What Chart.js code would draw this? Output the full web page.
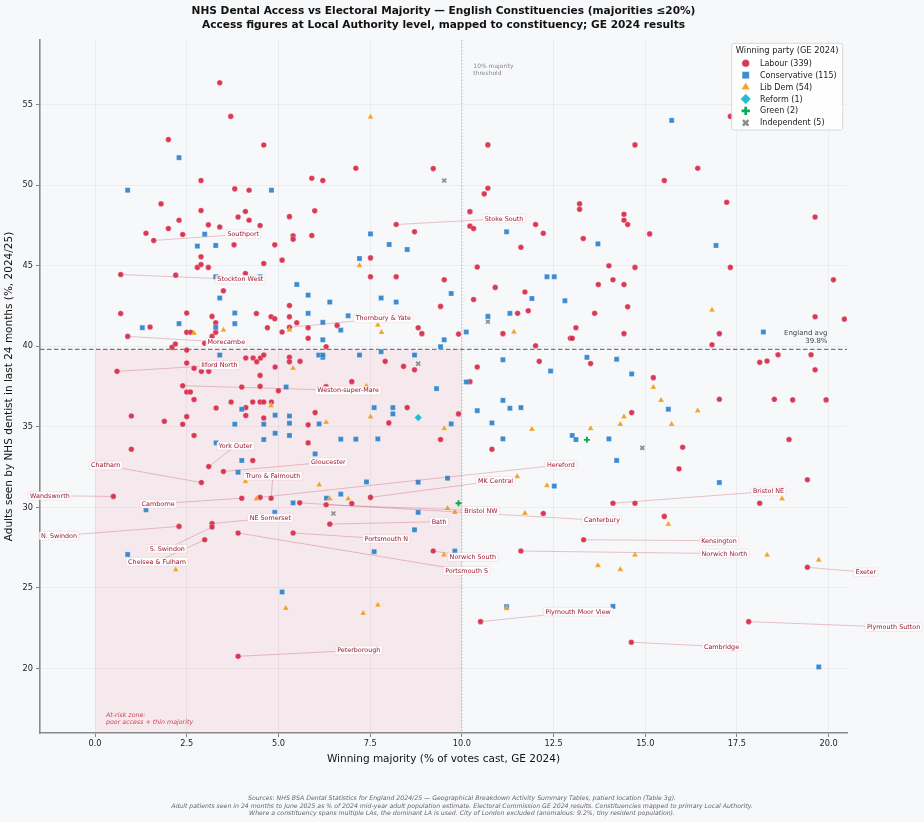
<!DOCTYPE html>
<html><head><meta charset="utf-8">
<script src="https://cdn.jsdelivr.net/npm/chart.js@4.4.1/dist/chart.umd.min.js"></script>
<style>html,body{margin:0;padding:0;background:#f7f8fa;}canvas{display:block}</style>
</head><body>
<canvas id="c" width="924" height="822"></canvas>
<script>
// ---------------- DATA ----------------
const X_TICKS = [0, 2.5, 5, 7.5, 10, 12.5, 15, 17.5, 20];
const Y_TICKS = [20, 25, 30, 35, 40, 45, 50, 55];
const X_RANGE = [-1.5, 20.5];
const Y_RANGE = [16, 59];
const ENGLAND_AVG = 39.8;
const THRESHOLD = 10;

// [majority %, adults seen %]
const labour = [
[3.40,56.35],[3.70,54.26],[2.00,52.82],[4.60,52.48],[2.89,50.28],[3.81,49.76],[4.20,49.68],[1.80,48.83],[2.89,48.42],[4.10,48.36],[3.90,48.02],[5.30,48.04],[2.29,47.82],[4.20,47.82],[2.00,47.30],[3.09,47.53],[3.40,47.40],[4.50,47.49],[1.39,47.01],[2.39,46.93],[5.40,46.85],[5.40,46.64],[1.60,46.56],[3.79,46.29],[4.90,46.29],[2.89,45.55],[2.79,44.89],[2.89,45.07],[3.09,44.89],[5.10,45.34],[4.60,45.13],[0.70,44.45],[2.20,44.41],[4.10,44.51],[3.50,43.44],[5.30,42.53],[0.70,42.03],[2.50,42.06],[4.40,42.03],[3.19,41.85],[3.29,41.46],[4.80,41.83],[4.90,41.70],[5.30,41.83],[5.50,41.46],[1.50,41.19],[4.70,41.15],[5.30,41.17],[2.50,40.86],[2.61,40.86],[3.29,40.86],[5.10,40.88],[0.89,40.61],[3.19,40.61],
[2.10,39.93],[2.19,40.14],[2.50,39.76],[2.99,40.18],[2.50,38.96],[0.60,38.44],[2.70,38.63],[2.90,38.44],[3.10,38.44],[4.11,39.27],[4.31,39.27],[4.41,39.04],[4.51,39.27],[4.60,39.45],[5.30,39.31],[5.30,39.04],[5.59,39.06],[4.91,38.71],[4.50,38.19],[2.39,37.55],[4.00,37.47],[4.50,37.51],[5.00,37.24],[2.50,37.16],[2.60,37.16],[2.70,36.69],[3.30,36.17],[3.71,36.54],[4.11,36.19],[4.30,36.54],[4.50,36.54],[4.60,36.54],[4.81,36.54],[4.11,35.70],[4.60,35.55],[0.99,35.67],[1.89,35.34],[2.50,35.63],[2.39,35.16],[2.70,34.46],[0.99,33.61],[3.10,32.53],[4.30,32.91],[3.50,32.23],[2.90,31.54],
[0.50,30.68],[4.00,30.57],[4.50,30.62],[4.80,30.57],[5.58,30.28],[2.29,28.82],[3.19,29.00],[3.19,28.78],[3.90,28.41],[5.40,28.41],[2.99,27.99],[3.90,20.76],
[10.71,52.49],[7.11,51.04],[9.22,51.02],[5.91,50.42],[6.21,50.28],[10.71,49.80],[10.61,49.45],[5.99,48.40],[10.22,48.35],[8.21,47.55],[8.71,47.10],[10.22,47.45],[10.32,47.30],[12.01,47.55],[12.22,47.01],[5.91,46.87],[11.61,46.14],[7.51,45.48],[10.42,44.91],
[7.51,44.31],[8.21,44.31],[9.52,44.12],[10.91,43.65],[11.72,43.36],[10.32,42.90],[9.42,42.47],[11.81,42.20],[6.60,41.29],[5.81,41.15],[5.81,40.49],[8.81,41.15],[8.91,40.78],[9.91,40.75],[11.52,42.04],[11.12,40.78],[6.30,39.97],[12.01,40.03],[12.96,40.49],[7.91,39.06],[8.41,38.75],[8.71,38.54],[10.42,38.71],[12.11,39.06],[7.00,37.80],[6.30,37.49],[10.22,37.80],[8.51,36.19],[6.00,35.88],[5.81,35.12],[8.01,35.24],[9.91,35.80],[9.42,34.21],[5.81,34.00],[10.82,33.61],
[7.51,30.62],[6.30,30.16],[7.00,30.24],[12.22,29.62],[6.40,28.96],[9.22,27.29],[11.61,27.29],[10.51,22.91],
[17.32,54.26],[14.72,52.49],[16.43,51.04],[15.52,50.28],[17.22,48.93],[13.21,48.83],[13.21,48.50],[19.63,48.02],[14.42,48.19],[14.42,47.82],[14.52,47.55],[15.12,46.97],[13.31,46.68],[14.01,44.99],[14.72,44.89],[17.32,44.89],
[13.72,43.83],[14.12,44.12],[14.42,43.83],[20.13,44.12],[13.62,42.04],[14.52,42.45],[19.63,41.83],[20.43,41.68],[13.11,41.15],[13.01,40.49],[14.42,40.78],[17.02,40.78],[16.82,40.09],[13.51,38.92],[18.12,39.00],[18.32,39.08],[18.62,39.47],[19.52,39.47],[19.63,38.54],[15.22,38.05],[17.02,36.71],[18.52,36.71],[19.02,36.67],[19.93,36.67],[14.63,35.88],[16.02,33.73],[18.92,34.21],[15.92,32.39],[19.42,31.71],
[14.12,30.26],[14.72,30.26],[18.12,30.26],[15.52,29.44],[13.32,27.99],[19.42,26.28],[17.82,22.91],[14.62,21.63]
];
const conservative = [
[2.29,51.70],[0.89,49.68],[4.81,49.68],[2.99,46.95],[2.79,46.21],[3.29,46.25],[3.29,44.31],[4.50,44.31],[3.40,42.99],[5.50,43.83],[3.81,42.06],[2.29,41.40],[3.81,41.40],[1.29,41.15],[3.29,41.17],
[3.40,39.45],[5.21,37.47],[4.00,36.09],[4.91,35.72],[5.30,35.67],[3.81,35.16],[4.60,35.16],[5.30,35.22],[4.91,34.60],[5.30,34.46],[4.60,34.21],[3.30,34.00],[4.00,32.91],[3.90,32.18],
[5.40,30.28],[1.39,29.85],[4.90,29.69],[0.89,27.08],[5.10,24.75],
[11.22,47.10],[7.51,46.97],[8.02,46.31],[8.51,46.00],[7.21,45.44],
[12.32,44.31],[12.52,44.31],[5.81,43.17],[9.71,43.27],[11.91,42.96],[12.81,42.82],[6.40,42.74],[7.80,42.99],[8.21,42.74],[5.81,42.04],[6.90,41.89],[6.21,41.48],[6.70,41.00],[10.12,40.88],[10.71,41.85],[11.31,42.04],[6.21,40.40],[9.52,40.40],[9.42,39.97],[6.10,39.45],[6.21,39.31],[6.21,39.45],[7.21,39.45],[7.80,39.66],[8.71,39.45],[11.12,39.16],[12.42,38.46],[10.12,37.78],[9.31,37.37],[11.12,36.64],[11.31,36.15],[11.61,36.19],[10.42,36.00],[7.61,36.19],[8.12,36.19],[8.12,35.80],[6.11,35.18],[9.71,35.18],[10.82,35.24],[6.70,34.23],[7.11,34.23],[7.71,34.25],[11.12,34.25],[6.00,33.32],[7.40,31.58],[8.81,31.56],[9.61,31.81],[12.52,31.32],
[6.31,30.57],[6.70,30.82],[8.81,29.69],[8.71,28.61],[7.61,27.25],[9.81,27.29],[11.22,23.84],
[15.72,54.01],[13.71,46.35],[16.93,46.25],
[18.22,40.88],[13.41,39.31],[14.22,39.19],[14.63,38.28],[15.63,36.09],[13.01,34.46],[13.11,34.21],[14.01,34.25],[14.22,32.91],[17.02,31.54],
[14.12,23.86],[19.73,20.10]
];
const libDem = [
[3.50,41.00],[5.30,41.00],[2.70,40.80],[5.40,38.63],[4.80,36.31],[4.10,31.61],[4.40,30.53],[2.20,26.13],[5.20,23.74],
[7.51,54.22],[7.21,45.01],[7.71,41.31],[7.81,40.86],[11.42,40.88],[7.40,37.53],[7.51,35.63],[6.30,35.28],[9.52,34.89],[11.91,34.85],[6.11,31.40],[11.51,31.92],[12.32,31.36],
[6.40,30.53],[6.90,30.53],[9.61,29.95],[9.81,29.69],[11.72,29.64],[9.51,27.04],[7.71,23.94],[7.31,23.43],[11.22,23.72],
[16.82,42.24],[15.22,37.45],[15.43,36.64],[16.43,36.00],[14.42,35.63],[14.32,35.16],[15.72,35.16],[13.51,34.89],
[18.73,30.53],[15.63,28.96],[14.72,27.04],[18.32,27.04],[19.73,26.73],[13.71,26.40],[14.32,26.15]
];
const reform = [[8.81,35.57]];
const green = [[9.91,30.26],[13.41,34.19]];
const independent = [[9.52,50.28],[10.71,41.52],[8.81,38.92],[6.50,29.62],[14.92,33.69]];

// labelled constituencies: point (x,y) and label centre (lx,ly), both in data units
const annotations = [
{n:'Southport',x:1.60,y:46.56,lx:4.04,ly:46.95},
{n:'Stockton West',x:0.70,y:44.45,lx:3.96,ly:44.14},
{n:'Morecambe',x:0.89,y:40.61,lx:3.58,ly:40.24},
{n:'Ilford North',x:0.60,y:38.44,lx:3.39,ly:38.82},
{n:'Weston-super-Mare',x:2.39,y:37.55,lx:6.90,ly:37.25},
{n:'Thornbury & Yate',x:5.30,y:41.17,lx:7.86,ly:41.73},
{n:'Stoke South',x:8.21,y:47.55,lx:11.15,ly:47.92},
{n:'York Outer',x:3.10,y:32.53,lx:3.83,ly:33.82},
{n:'Chatham',x:2.90,y:31.54,lx:0.29,ly:32.60},
{n:'Gloucester',x:3.50,y:32.23,lx:6.36,ly:32.81},
{n:'Truro & Falmouth',x:4.80,y:30.57,lx:4.85,ly:31.96},
{n:'Hereford',x:4.50,y:30.62,lx:12.70,ly:32.64},
{n:'MK Central',x:7.51,y:30.62,lx:10.92,ly:31.65},
{n:'Wandsworth',x:0.50,y:30.68,lx:-1.23,ly:30.72},
{n:'Camborne',x:4.00,y:30.57,lx:1.72,ly:30.22},
{n:'NE Somerset',x:3.19,y:29.00,lx:4.78,ly:29.34},
{n:'Bristol NW',x:6.30,y:30.16,lx:10.52,ly:29.79},
{n:'N. Swindon',x:2.29,y:28.82,lx:-0.98,ly:28.24},
{n:'S. Swindon',x:3.19,y:28.78,lx:1.97,ly:27.43},
{n:'Chelsea & Fulham',x:2.99,y:27.99,lx:1.69,ly:26.63},
{n:'Bath',x:6.40,y:28.96,lx:9.38,ly:29.11},
{n:'Portsmouth N',x:5.40,y:28.41,lx:7.94,ly:28.04},
{n:'Portsmouth S',x:3.90,y:28.41,lx:10.13,ly:26.07},
{n:'Norwich South',x:9.22,y:27.29,lx:10.30,ly:26.92},
{n:'Canterbury',x:5.58,y:30.28,lx:13.82,ly:29.19},
{n:'Kensington',x:13.32,y:27.99,lx:17.01,ly:27.93},
{n:'Norwich North',x:11.61,y:27.29,lx:17.16,ly:27.13},
{n:'Bristol NE',x:14.12,y:30.26,lx:18.36,ly:30.99},
{n:'Exeter',x:19.42,y:26.28,lx:21.01,ly:25.97},
{n:'Plymouth Moor View',x:10.51,y:22.91,lx:13.17,ly:23.53},
{n:'Plymouth Sutton',x:17.82,y:22.91,lx:21.77,ly:22.56},
{n:'Cambridge',x:14.62,y:21.63,lx:17.08,ly:21.36},
{n:'Peterborough',x:3.90,y:20.76,lx:7.19,ly:21.13}
];

const TITLE = ['NHS Dental Access vs Electoral Majority \u2014 English Constituencies (majorities \u226420%)',
               'Access figures at Local Authority level, mapped to constituency; GE 2024 results'];
const FOOTER = ['Sources: NHS BSA Dental Statistics for England 2024/25 \u2014 Geographical Breakdown Activity Summary Tables, patient location (Table 3g).',
 'Adult patients seen in 24 months to June 2025 as % of 2024 mid-year adult population estimate. Electoral Commission GE 2024 results. Constituencies mapped to primary Local Authority.',
 'Where a constituency spans multiple LAs, the dominant LA is used. City of London excluded (anomalous: 9.2%, tiny resident population).'];

// ---------------- STYLE ----------------
const FONT = "'DejaVu Sans', sans-serif";
Chart.defaults.font.family = FONT;

const parties = [
 {label:'Labour (339)', data:labour, style:'circle', fill:'rgba(214,36,68,0.9)', r:2.8, lr:3.8, order:6},
 {label:'Conservative (115)', data:conservative, style:'rect', fill:'rgba(38,128,204,0.9)', r:3.6, lr:5.0, order:5},
 {label:'Lib Dem (54)', data:libDem, style:'triangle', fill:'rgba(240,158,24,0.95)', r:3.5, lr:4.8, order:4},
 {label:'Reform (1)', data:reform, style:'rectRot', fill:'rgba(24,184,210,0.95)', r:3.8, lr:5.2, order:1},
 {label:'Green (2)', data:green, style:'cross', fill:'rgba(10,170,80,1)', r:3.0, lr:4.2, order:2, bw:1.9},
 {label:'Independent (5)', data:independent, style:'crossRot', fill:'rgba(140,140,140,1)', r:2.8, lr:3.9, order:3, bw:1.7}
];
const isLine = s => s === 'cross' || s === 'crossRot';

const datasets = parties.map(p => ({
  label: p.label,
  data: p.data.map(([x, y]) => ({x, y})),
  pointStyle: p.style,
  pointRadius: p.r,
  pointHoverRadius: p.r,
  backgroundColor: p.fill,
  borderColor: isLine(p.style) ? p.fill : 'rgba(255,255,255,0.7)',
  borderWidth: isLine(p.style) ? p.bw : 0.4,
  order: p.order
}));

const deco = {
  id: 'deco',
  beforeDraw(c) {
    const {ctx, chartArea: a, scales: {x, y}} = c;
    ctx.save();
    ctx.fillStyle = '#f7f8fa';
    ctx.fillRect(0, 0, c.width, c.height);
    const x0 = x.getPixelForValue(0), x1 = x.getPixelForValue(THRESHOLD);
    const yt = y.getPixelForValue(ENGLAND_AVG);
    ctx.fillStyle = 'rgba(232,60,80,0.075)';
    ctx.fillRect(x0, yt, x1 - x0, a.bottom - yt);
    ctx.restore();
  },
  beforeDatasetsDraw(c) {
    const {ctx, chartArea: a, scales: {x, y}} = c;
    ctx.save();
    const xt = x.getPixelForValue(THRESHOLD);
    ctx.strokeStyle = 'rgba(150,150,150,0.8)';
    ctx.lineWidth = 0.8;
    ctx.setLineDash([1.5, 1.8]);
    ctx.beginPath(); ctx.moveTo(xt, a.top); ctx.lineTo(xt, a.bottom); ctx.stroke();
    const ya = y.getPixelForValue(ENGLAND_AVG);
    ctx.strokeStyle = '#777';
    ctx.lineWidth = 1.2;
    ctx.setLineDash([4.5, 2.5]);
    ctx.beginPath(); ctx.moveTo(a.left, ya); ctx.lineTo(a.right, ya); ctx.stroke();
    ctx.setLineDash([]);
    ctx.fillStyle = '#888';
    ctx.font = '6px ' + FONT;
    ctx.textAlign = 'left'; ctx.textBaseline = 'middle';
    ctx.fillText('10% majority', xt + 11.5, a.top + 26.7);
    ctx.fillText('threshold', xt + 11.5, a.top + 33.3);
    ctx.fillStyle = '#444';
    ctx.font = '7px ' + FONT;
    ctx.textAlign = 'right';
    ctx.fillText('England avg', a.right - 19.5, ya - 16);
    ctx.fillText(ENGLAND_AVG.toFixed(1) + '%', a.right - 19.5, ya - 8.5);
    ctx.fillStyle = 'rgba(190,40,60,0.85)';
    ctx.font = 'italic 6.3px ' + FONT;
    ctx.textAlign = 'left';
    ctx.fillText('At-risk zone:', x.getPixelForValue(0) + 11, a.bottom - 18);
    ctx.fillText('poor access + thin majority', x.getPixelForValue(0) + 11, a.bottom - 10.5);
    ctx.restore();
  },
  afterDatasetsDraw(c) {
    const {ctx, scales: {x, y}} = c;
    ctx.save();
    ctx.strokeStyle = 'rgba(190,70,90,0.45)';
    ctx.lineWidth = 0.7;
    for (const an of annotations) {
      ctx.beginPath();
      ctx.moveTo(x.getPixelForValue(an.x), y.getPixelForValue(an.y));
      ctx.lineTo(x.getPixelForValue(an.lx), y.getPixelForValue(an.ly));
      ctx.stroke();
    }
    ctx.font = '6.4px ' + FONT;
    ctx.textAlign = 'center'; ctx.textBaseline = 'middle';
    for (const an of annotations) {
      const lx = x.getPixelForValue(an.lx), ly = y.getPixelForValue(an.ly);
      const w = ctx.measureText(an.n).width + 4, h = 8.6;
      ctx.fillStyle = 'rgba(255,255,255,0.85)';
      ctx.strokeStyle = 'rgba(210,140,150,0.35)';
      ctx.lineWidth = 0.5;
      ctx.beginPath();
      ctx.roundRect(lx - w / 2, ly - h / 2, w, h, 1.5);
      ctx.fill(); ctx.stroke();
      ctx.fillStyle = '#9b1b30';
      ctx.fillText(an.n, lx, ly + 0.3);
    }
    ctx.restore();
  },
  afterDraw(c) {
    const {ctx, chartArea: a} = c;
    ctx.save();
    ctx.fillStyle = '#111';
    ctx.textAlign = 'center'; ctx.textBaseline = 'middle';
    ctx.font = 'bold 10.6px ' + FONT;
    const cx = (a.left + a.right) / 2;
    ctx.fillText(TITLE[0], cx, 11);
    ctx.fillText(TITLE[1], cx, 25);
    ctx.fillStyle = '#666';
    ctx.font = 'italic 6.2px ' + FONT;
    FOOTER.forEach((t, i) => ctx.fillText(t, c.width / 2, 798.5 + i * 7.6));
    const L = {x: a.right - 115.3, y: a.top + 3.3, w: 111, h: 86.7};
    ctx.fillStyle = 'rgba(255,255,255,0.85)';
    ctx.strokeStyle = '#cfcfcf';
    ctx.lineWidth = 0.8;
    ctx.beginPath(); ctx.roundRect(L.x, L.y, L.w, L.h, 2); ctx.fill(); ctx.stroke();
    ctx.fillStyle = '#222';
    ctx.font = '8.3px ' + FONT;
    ctx.fillText('Winning party (GE 2024)', L.x + L.w / 2, L.y + 7.5);
    ctx.textAlign = 'left';
    ctx.font = '8px ' + FONT;
    parties.forEach((p, i) => {
      const yy = L.y + 20 + i * 11.9;
      ctx.fillStyle = p.fill;
      ctx.strokeStyle = isLine(p.style) ? p.fill : 'rgba(255,255,255,0.7)';
      ctx.lineWidth = isLine(p.style) ? p.bw + 0.8 : 0.4;
      Chart.helpers.drawPoint(ctx, {pointStyle: p.style, radius: p.lr, borderWidth: ctx.lineWidth, rotation: 0}, L.x + 14, yy);
      ctx.fillStyle = '#222';
      ctx.fillText(p.label, L.x + 28.3, yy + 0.5);
    });
    ctx.restore();
  }
};

const tickFont = {family: FONT, size: 8.2};
new Chart(document.getElementById('c'), {
  type: 'scatter',
  data: {datasets},
  options: {
    responsive: false,
    animation: false,
    events: [],
    layout: {padding: {top: 40, right: 77, bottom: 0, left: 0}},
    plugins: {legend: {display: false}, tooltip: {enabled: false}},
    scales: {
      x: {
        type: 'linear', min: X_RANGE[0], max: X_RANGE[1],
        afterBuildTicks: s => { s.ticks = X_TICKS.map(v => ({value: v})); },
        afterFit: s => { s.height = 89; },
        ticks: {font: tickFont, color: '#222', padding: 2, maxRotation: 0, autoSkip: false, callback: v => Number(v).toFixed(1)},
        grid: {color: 'rgba(0,0,0,0.055)', lineWidth: 0.8, tickColor: '#666', tickLength: 4},
        border: {color: '#8a8a8a', width: 1.6},
        title: {display: true, text: 'Winning majority (% of votes cast, GE 2024)', color: '#111', font: {family: FONT, size: 10.5}, padding: {top: 0, bottom: 56.5}}
      },
      y: {
        type: 'linear', min: Y_RANGE[0], max: Y_RANGE[1],
        afterBuildTicks: s => { s.ticks = Y_TICKS.map(v => ({value: v})); },
        afterFit: s => { s.width = 40; },
        ticks: {font: tickFont, color: '#222', padding: 3, autoSkip: false, callback: v => String(v)},
        grid: {color: 'rgba(0,0,0,0.055)', lineWidth: 0.8, tickColor: '#666', tickLength: 4},
        border: {color: '#8a8a8a', width: 1.6},
        title: {display: true, text: 'Adults seen by NHS dentist in last 24 months (%, 2024/25)', color: '#111', font: {family: FONT, size: 10.5}, padding: {top: 2.5, bottom: 0}}
      }
    }
  },
  plugins: [deco]
});
</script>
</body></html>
